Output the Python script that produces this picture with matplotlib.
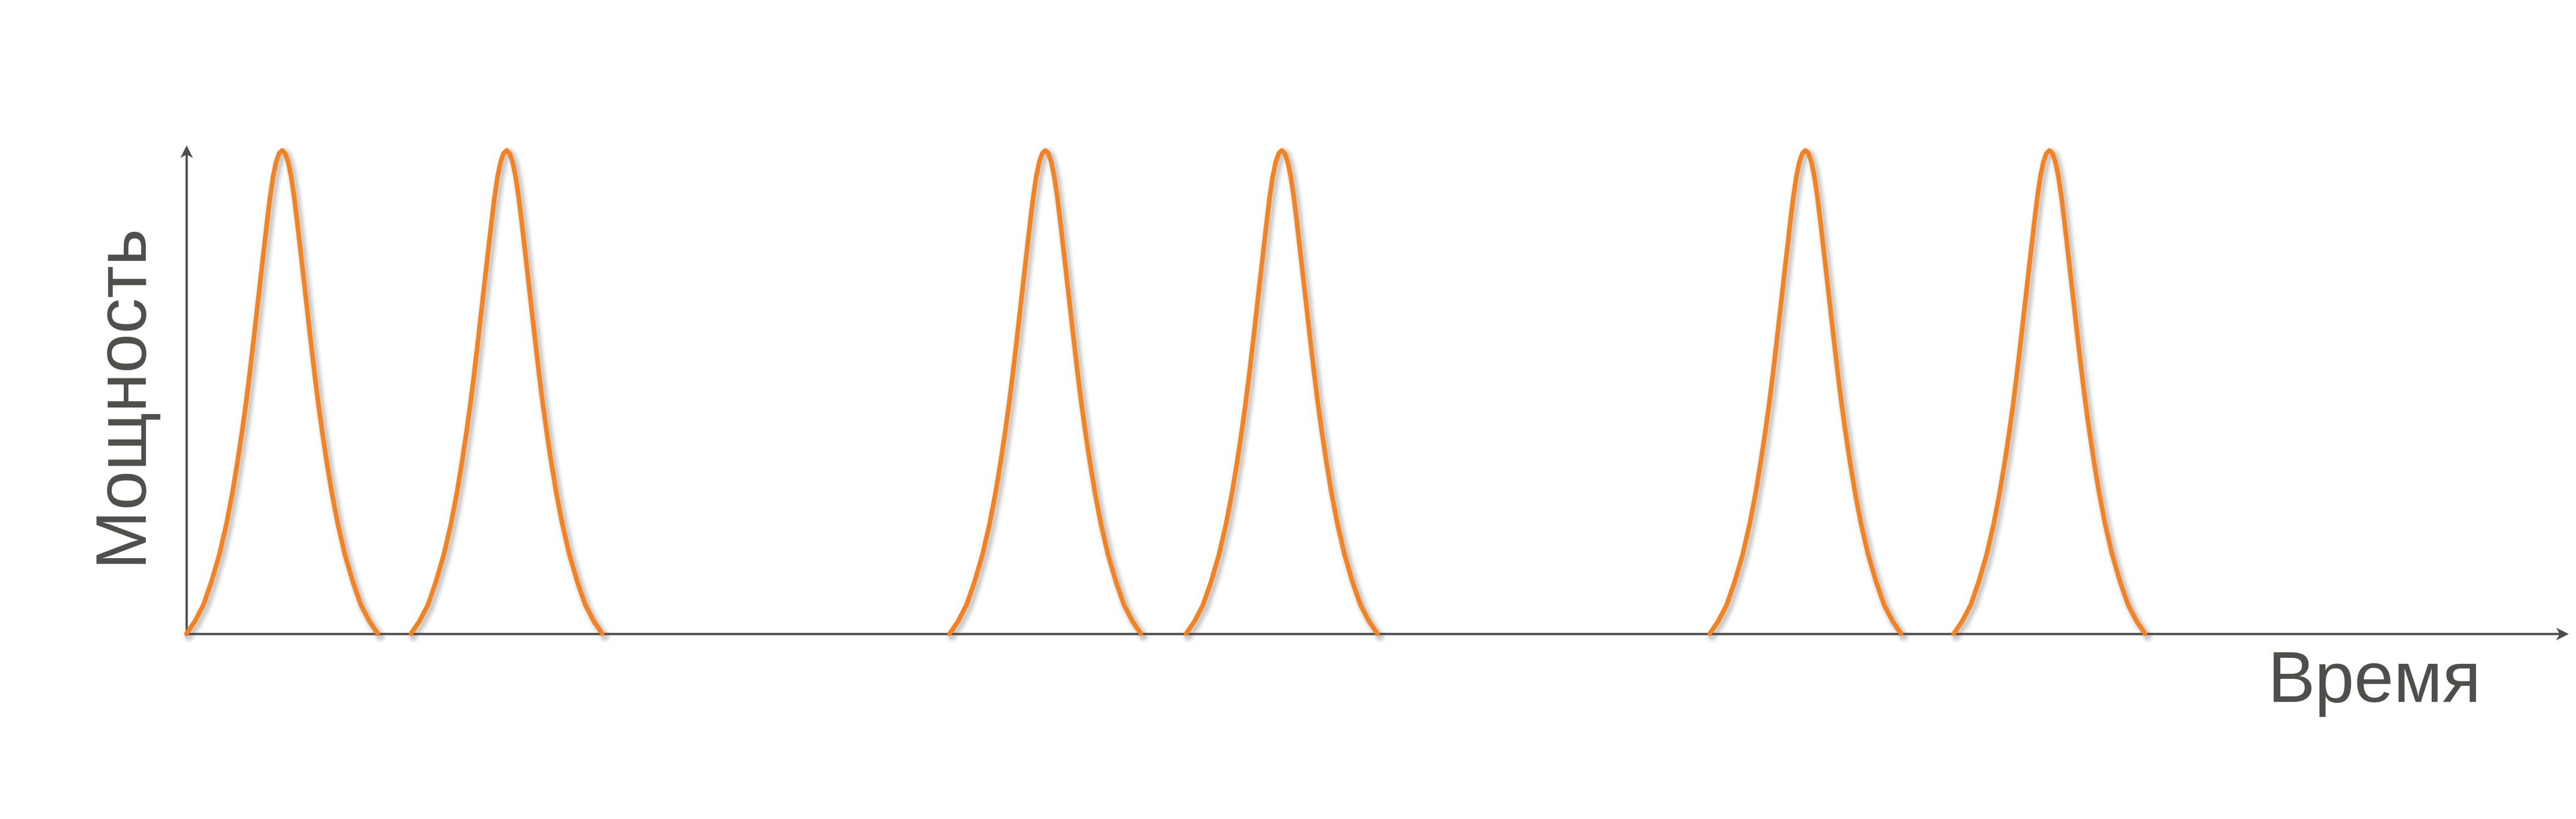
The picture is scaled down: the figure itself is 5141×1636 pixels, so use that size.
import numpy as np
import matplotlib
matplotlib.use("Agg")
import matplotlib.pyplot as plt
from matplotlib.path import Path
from matplotlib.transforms import offset_copy
from matplotlib import font_manager as fm

# ---- data (time in arbitrary units, power normalised to peak = 1) ----
pulse_starts = [0.00, 4.48, 15.23, 19.95, 30.40, 35.27]
profile_t = [0.00, 0.17, 0.34, 0.50, 0.66, 0.80, 0.92, 1.02, 1.11, 1.19, 1.26,
             1.33, 1.40, 1.47, 1.54, 1.61, 1.67, 1.73, 1.79, 1.85, 1.91,
             1.97, 2.03, 2.09, 2.15, 2.21, 2.28, 2.35, 2.42, 2.49, 2.56, 2.63,
             2.71, 2.80, 2.90, 3.02, 3.16, 3.32, 3.48, 3.65, 3.82]
profile_p = [0.000, 0.026, 0.060, 0.108, 0.165, 0.228, 0.293, 0.356, 0.418,
             0.478, 0.536, 0.598, 0.662, 0.726, 0.790, 0.853, 0.904, 0.946,
             0.976, 0.994, 1.000, 0.994, 0.976, 0.946, 0.904, 0.853, 0.790,
             0.726, 0.662, 0.598, 0.536, 0.478, 0.418, 0.356, 0.293, 0.228,
             0.165, 0.108, 0.060, 0.026, 0.000]
x_label = "Время"
y_label = "Мощность"

W, H, DPI = 5141, 1636, 100
ORANGE = "#F5821F"
AX_COL = "#4d4d4d"
TXT_COL = "#4e4e4c"

fig = plt.figure(figsize=(W / DPI, H / DPI), dpi=DPI)
fig.patch.set_facecolor("white")

x0_px, y0_px = 372, 1266
xmax = 47.54
amp_px = 965.5
ax = fig.add_axes([x0_px / W, (H - y0_px) / H, (xmax * 100) / W, amp_px / H])
ax.set_xlim(0, xmax)
ax.set_ylim(0, 1)
ax.axis("off")

px = 72.0 / DPI

ytip = (H - 290 - (H - y0_px)) / amp_px
ax.plot([0, xmax - 0.1], [0, 0], color=AX_COL, lw=4.5 * px, clip_on=False,
        solid_capstyle="butt", zorder=5)
ax.plot([0, 0], [-0.004, ytip - 0.01], color=AX_COL, lw=4.5 * px, clip_on=False,
        solid_capstyle="butt", zorder=5)

right_head = Path([(0, 0), (-1, 0.5), (-0.72, 0), (-1, -0.5), (0, 0)],
                  [Path.MOVETO, Path.LINETO, Path.LINETO, Path.LINETO, Path.CLOSEPOLY])
up_head = Path([(0, 0), (0.5, -1), (0, -0.72), (-0.5, -1), (0, 0)],
               [Path.MOVETO, Path.LINETO, Path.LINETO, Path.LINETO, Path.CLOSEPOLY])
ms = 50 * px
ax.plot([xmax], [0], marker=right_head, markersize=ms, color=AX_COL,
        markeredgewidth=0, clip_on=False, zorder=6)
ax.plot([0], [ytip], marker=up_head, markersize=ms, color=AX_COL,
        markeredgewidth=0, clip_on=False, zorder=6)

shadow_tr = offset_copy(ax.transData, fig=fig, x=5, y=-5, units="dots")
pt = np.array(profile_t)
pp = np.array(profile_p)
for s in pulse_starts:
    xs = s + pt
    for lw_px, a in [(26, 0.05), (21, 0.07), (16, 0.09), (11, 0.12)]:
        ax.plot(xs, pp, color="#606060", alpha=a, lw=lw_px * px, transform=shadow_tr,
                solid_capstyle="round", solid_joinstyle="round", clip_on=False, zorder=3)
    ax.plot(xs, pp, color=ORANGE, lw=9 * px, solid_capstyle="round",
            solid_joinstyle="round", clip_on=False, zorder=7)

fam = ["Liberation Sans", "DejaVu Sans"]
t1 = fig.text(4525 / W, (H - 1402) / H, x_label, fontsize=102, family=fam,
              color=TXT_COL, ha="left", va="baseline")
t2 = fig.text(280 / W, (H - 785) / H, y_label, fontsize=102, family=fam,
              color=TXT_COL, rotation=90, rotation_mode="anchor",
              ha="center", va="baseline")

fig.canvas.draw()
r = fig.canvas.get_renderer()
_ = (t1.get_window_extent(r), t2.get_window_extent(r))
fig.savefig("out.png", dpi=DPI, facecolor="white")
